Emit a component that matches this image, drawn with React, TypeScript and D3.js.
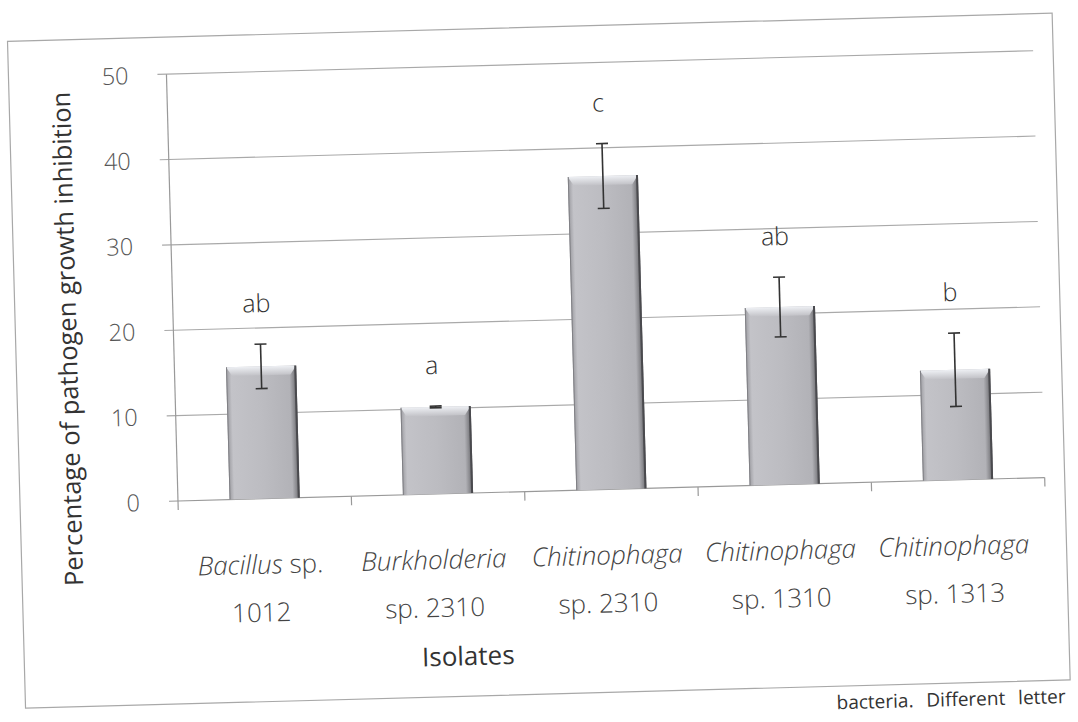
import React from 'react';
import * as d3 from 'd3';

// isolates (genus in italics, then the rest)
const genus = ['Bacillus', 'Burkholderia', 'Chitinophaga', 'Chitinophaga', 'Chitinophaga'];
const genusSuffix = [' sp.', '', '', '', ''];
const secondLine = ['1012', 'sp. 2310', 'sp. 2310', 'sp. 1310', 'sp. 1313'];

// mean inhibition (%) and error
const means = [15.5, 10.2, 36.7, 20.8, 12.9];
const errors = [2.6, 0.1, 3.8, 3.5, 4.3];
const letters = ['ab', 'a', 'c', 'ab', 'b'];

const yTicks = [0, 10, 20, 30, 40, 50];

const W = 1078;
const H = 722;
const ox = 178; // axis origin, also pivot of the scan tilt
const oy = 501;
const tilt = -1.55;

const font = "'Open Sans', 'Noto Sans', sans-serif";

export default function App() {
  const idx = means.map((d, i) => i);

  const x = d3.scaleBand<number>()
    .domain(idx)
    .range([ox, 1045])
    .paddingInner(0.595)
    .paddingOuter(0.2975);

  const y = d3.scaleLinear()
    .domain([0, 50])
    .range([oy, 74]);

  const step = x.step();
  const bounds = d3.range(idx.length + 1).map(i => ox + i * step);

  return (
    <svg width={W} height={H} style={{ position: 'absolute', left: 0, top: 0, background: '#fff' }}>
      <defs>
        <linearGradient id="barGrad" x1="0" x2="1" y1="0" y2="0">
          <stop offset="0%" stopColor="#9c9ca1" />
          <stop offset="7%" stopColor="#c3c3c8" />
          <stop offset="50%" stopColor="#bcbcc1" />
          <stop offset="90%" stopColor="#b2b2b7" />
          <stop offset="100%" stopColor="#6a6a6e" />
        </linearGradient>
        <linearGradient id="topGrad" x1="0" x2="0" y1="0" y2="1">
          <stop offset="0%" stopColor="#eef0f4" />
          <stop offset="100%" stopColor="#c2c2c7" />
        </linearGradient>
      </defs>
      <g transform={`rotate(${tilt}, ${ox}, ${oy})`}>
        {/* outer frame */}
        <rect x={20} y={37} width={1045} height={667} fill="none" stroke="#a8a8a8" strokeWidth={1.2} />

        {/* gridlines with left tick stubs */}
        {yTicks.slice(1).map(t => (
          <line key={'g' + t} x1={ox - 9} x2={1045} y1={y(t)} y2={y(t)} stroke="#a9a9a9" strokeWidth={1.1} />
        ))}
        {yTicks.map(t => (
          <text key={'t' + t} x={ox - 38} y={y(t)} textAnchor="end" dominantBaseline="central"
            fontFamily={font} fontWeight={300} fontSize={23.5} fill="#555">{t}</text>
        ))}

        {/* axes */}
        <line x1={ox} x2={ox} y1={y(50)} y2={oy} stroke="#999" strokeWidth={1.2} />
        <line x1={ox - 9} x2={1045} y1={oy} y2={oy} stroke="#999" strokeWidth={1.2} />
        {bounds.map((b, i) => (
          <line key={'xt' + i} x1={b} x2={b} y1={oy} y2={oy + 9} stroke="#999" strokeWidth={1.2} />
        ))}

        {/* bars */}
        {idx.map(i => {
          const bx = x(i)!;
          const bw = x.bandwidth();
          const top = y(means[i]);
          return (
            <g key={'b' + i}>
              <rect x={bx} y={top} width={bw} height={oy - top} fill="url(#barGrad)" />
              <polygon
                points={`${bx},${top} ${bx + bw},${top} ${bx + bw - 6},${top + 9} ${bx + 6},${top + 9}`}
                fill="url(#topGrad)" />
              <line x1={bx + 0.5} x2={bx + 0.5} y1={top} y2={oy} stroke="#808085" strokeWidth={1} />
              <line x1={bx + bw - 1} x2={bx + bw - 1} y1={top} y2={oy} stroke="#4a4a4e" strokeWidth={2} />
            </g>
          );
        })}

        {/* error bars */}
        {idx.map(i => {
          const cx = x(i)! + x.bandwidth() / 2;
          const hi = y(means[i] + errors[i]);
          const lo = y(means[i] - errors[i]);
          return (
            <g key={'e' + i} stroke="#333" strokeWidth={1.6}>
              <line x1={cx} x2={cx} y1={hi} y2={lo} />
              <line x1={cx - 6} x2={cx + 6} y1={hi} y2={hi} />
              <line x1={cx - 6} x2={cx + 6} y1={lo} y2={lo} />
            </g>
          );
        })}

        {/* significance letters */}
        {idx.map(i => (
          <text key={'l' + i} x={x(i)! + x.bandwidth() / 2 - 3} y={y(means[i] + errors[i]) - 42}
            textAnchor="middle" dominantBaseline="central"
            fontFamily={font} fontWeight={300} fontSize={25} fill="#333">{letters[i]}</text>
        ))}

        {/* category labels */}
        {idx.map(i => {
          const cx = x(i)! + x.bandwidth() / 2 - 6;
          return (
            <g key={'c' + i} fontFamily={font} fontWeight={300} fontSize={26} fill="#444" textAnchor="middle">
              <text x={cx} y={576}>
                <tspan fontStyle="italic">{genus[i]}</tspan>
                {genusSuffix[i] && <tspan>{genusSuffix[i]}</tspan>}
              </text>
              <text x={cx} y={624}>{secondLine[i]}</text>
            </g>
          );
        })}

        {/* axis titles */}
        <text x={464} y={663} textAnchor="middle" dominantBaseline="central"
          fontFamily={font} fontSize={26} fill="#333">Isolates</text>
        <text transform={`translate(71, 336) rotate(-90)`} textAnchor="middle" dominantBaseline="central"
          fontFamily={font} fontSize={25.5} fill="#333">Percentage of pathogen growth inhibition</text>

        {/* caption fragment below the frame */}
        <text x={1060} y={727} textAnchor="end" fontFamily={font} fontSize={19} fill="#333" wordSpacing={8}>bacteria. Different letter</text>
      </g>
    </svg>
  );
}
